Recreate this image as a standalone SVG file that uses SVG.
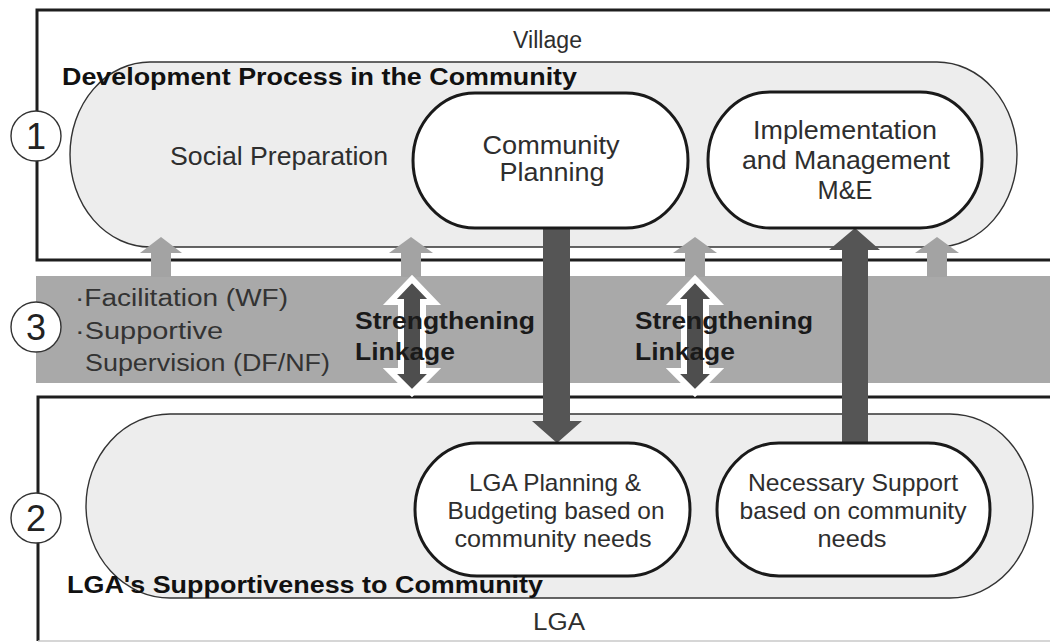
<svg xmlns="http://www.w3.org/2000/svg" width="1050" height="643" viewBox="0 0 1050 643">
  <defs>
    <style>
      text { font-family: "Liberation Sans", Arial, sans-serif; fill: #2e2e2e; }
      .frame { fill: none; stroke: #1e1e1e; stroke-width: 3; }
      .lane { fill: #ededed; stroke: #333; stroke-width: 1.4; }
      .node { fill: #ffffff; stroke: #1a1a1a; stroke-width: 3; }
      .step { font-size: 25px; text-anchor: middle; }
      .lga-step { font-size: 24px; text-anchor: middle; }
      .heading { font-size: 23px; font-weight: bold; fill: #111; }
      .place { font-size: 23px; }
      .band-text { font-size: 23px; fill: #333; }
      .link-text { font-size: 23px; font-weight: bold; fill: #1a1a1a; }
      .badge { fill: #fff; stroke: #333; stroke-width: 1.4; }
      .badge-num { font-size: 36px; text-anchor: middle; fill: #222; }
      .stub { fill: #a3a3a3; }
      .flow { fill: #555555; }
      .link { fill: #4e4e4e; stroke: #fff; stroke-width: 6; stroke-linejoin: miter; }
    </style>
  </defs>

  <!-- outer frames: village (top) and LGA (bottom) -->
  <g id="village-frame">
    <path class="frame" d="M1052,10 H37 V260 H1052"/>
    <text class="place" x="513" y="48" textLength="69" lengthAdjust="spacingAndGlyphs">Village</text>
  </g>
  <g id="lga-frame">
    <path class="frame" d="M1052,397 H38 V641"/>
    <line x1="38" y1="641" x2="1050" y2="641" stroke="#c8c8c8" stroke-width="1.5"/>
    <text class="place" x="533" y="630" textLength="52" lengthAdjust="spacingAndGlyphs">LGA</text>
  </g>

  <!-- lanes -->
  <g id="community-process">
    <path class="lane" d="M150,62 H937 A80,92.5 0 0 1 937,247 H150 A80,92.5 0 0 1 150,62 Z"/>
    <text class="step" x="279" y="165" textLength="218" lengthAdjust="spacingAndGlyphs">Social Preparation</text>
  </g>
  <g id="lga-support">
    <path class="lane" d="M170,414 H950 A83,92 0 0 1 950,598 H170 A84,92 0 0 1 170,414 Z"/>
  </g>

  <!-- facilitation band -->
  <g id="facilitation">
    <rect x="36" y="276" width="1016" height="107" fill="#a9a9a9"/>
    <text class="band-text" x="75" y="306" textLength="213" lengthAdjust="spacingAndGlyphs">·Facilitation (WF)</text>
    <text class="band-text" x="75" y="339" textLength="148" lengthAdjust="spacingAndGlyphs">·Supportive</text>
    <text class="band-text" x="85" y="371" textLength="245" lengthAdjust="spacingAndGlyphs">Supervision (DF/NF)</text>
  </g>

  <!-- connectors -->
  <g id="connectors">
    <!-- support stubs rising from the band -->
    <path class="stub" d="M151,277 V253 H140 L161,237 L182,253 H171 V277 Z"/>
    <path class="stub" d="M401,277 V253 H389 L411,237 L433,253 H421 V277 Z"/>
    <path class="stub" d="M685,277 V253 H673 L695,237 L717,253 H705 V277 Z"/>
    <path class="stub" d="M927,277 V253 H915 L937,237 L959,253 H947 V277 Z"/>
    <!-- community planning feeds LGA planning -->
    <path class="flow" d="M543,228 H570 V421 H582 L557,443 L532,421 H543 Z"/>
    <!-- LGA support feeds implementation -->
    <path class="flow" d="M842,443 V250 H829 L855,228 L880,250 H868 V443 Z"/>
    <!-- strengthening linkages -->
    <path class="link" d="M412,279 L434,302 H423 V371 H434 L412,393 L390,371 H401 V302 H390 Z"/>
    <path class="link" d="M695,279 L717,302 H706 V371 H717 L695,393 L673,371 H684 V302 H673 Z"/>
  </g>

  <!-- process nodes -->
  <g id="community-planning">
    <rect class="node" x="413" y="93" width="275" height="135" rx="62" ry="67.5"/>
    <text class="step" x="551" y="154" textLength="137" lengthAdjust="spacingAndGlyphs">Community</text>
    <text class="step" x="552" y="181" textLength="105" lengthAdjust="spacingAndGlyphs">Planning</text>
  </g>
  <g id="implementation">
    <rect class="node" x="708" y="92" width="274" height="136" rx="62" ry="68"/>
    <text class="step" x="845" y="139" textLength="184" lengthAdjust="spacingAndGlyphs">Implementation</text>
    <text class="step" x="846" y="169" textLength="208" lengthAdjust="spacingAndGlyphs">and Management</text>
    <text class="step" x="845" y="199" textLength="55" lengthAdjust="spacingAndGlyphs">M&amp;E</text>
  </g>
  <g id="lga-planning">
    <rect class="node" x="415" y="443" width="275" height="133" rx="62" ry="66.5"/>
    <text class="lga-step" x="555" y="491" textLength="172" lengthAdjust="spacingAndGlyphs">LGA Planning &amp;</text>
    <text class="lga-step" x="556" y="519" textLength="217" lengthAdjust="spacingAndGlyphs">Budgeting based on</text>
    <text class="lga-step" x="553" y="547" textLength="197" lengthAdjust="spacingAndGlyphs">community needs</text>
  </g>
  <g id="necessary-support">
    <rect class="node" x="717" y="443" width="273" height="133" rx="62" ry="66.5"/>
    <text class="lga-step" x="853" y="491" textLength="210" lengthAdjust="spacingAndGlyphs">Necessary Support</text>
    <text class="lga-step" x="853" y="519" textLength="227" lengthAdjust="spacingAndGlyphs">based on community</text>
    <text class="lga-step" x="852" y="547" textLength="69" lengthAdjust="spacingAndGlyphs">needs</text>
  </g>

  <!-- lane headings and linkage labels -->
  <g id="labels">
    <text class="heading" x="62" y="85" textLength="515" lengthAdjust="spacingAndGlyphs">Development Process in the Community</text>
    <text class="heading" x="67" y="593" textLength="476" lengthAdjust="spacingAndGlyphs">LGA's Supportiveness to Community</text>
    <text class="link-text" x="355" y="329" textLength="180" lengthAdjust="spacingAndGlyphs">Strengthening</text>
    <text class="link-text" x="355" y="360" textLength="100" lengthAdjust="spacingAndGlyphs">Linkage</text>
    <text class="link-text" x="635" y="329" textLength="178" lengthAdjust="spacingAndGlyphs">Strengthening</text>
    <text class="link-text" x="635" y="360" textLength="100" lengthAdjust="spacingAndGlyphs">Linkage</text>
  </g>

  <!-- numbered badges -->
  <g id="badge-1">
    <circle class="badge" cx="36" cy="136" r="25"/>
    <text class="badge-num" x="36" y="149">1</text>
  </g>
  <g id="badge-3">
    <circle class="badge" cx="36" cy="327" r="25"/>
    <text class="badge-num" x="36" y="340">3</text>
  </g>
  <g id="badge-2">
    <circle class="badge" cx="36" cy="518" r="25"/>
    <text class="badge-num" x="36" y="531">2</text>
  </g>
</svg>
